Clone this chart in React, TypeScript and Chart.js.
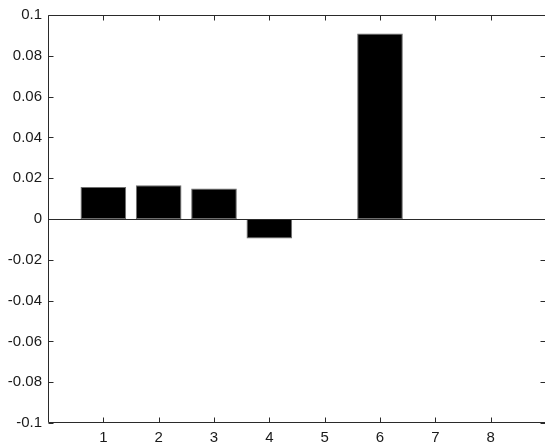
import React, { useEffect, useRef } from "react";
import { Chart, registerables } from "chart.js";

Chart.register(...registerables);

const categories = [1, 2, 3, 4, 5, 6, 7, 8];
const values = [0.0157, 0.0166, 0.015, -0.0095, 0, 0.0909, 0, 0];
const xLimits = [0, 9];
const yLimits = [-0.1, 0.1];
const yStep = 0.02;

const FONT = "'Liberation Sans Narrow', 'Liberation Sans', Arial, sans-serif";

const fmtY = (v: number) => {
  const r = Number(v.toFixed(2));
  return r === 0 ? "0" : String(r);
};

const boxPlugin = {
  id: "matlabBox",
  afterDatasetsDraw(chart: any) {
    const { ctx, chartArea } = chart;
    const xs = chart.scales.x;
    const ys = chart.scales.y;
    const l = Math.round(chartArea.left) + 0.5;
    const r = Math.round(chartArea.right) - 0.5;
    const t = Math.round(chartArea.top) + 0.5;
    const b = Math.round(chartArea.bottom) - 0.5;
    ctx.save();
    ctx.strokeStyle = "#2a2a2a";
    ctx.lineWidth = 1;
    // zero baseline
    const z = Math.round(ys.getPixelForValue(0)) + 0.5;
    ctx.beginPath();
    ctx.moveTo(l, z);
    ctx.lineTo(r, z);
    ctx.stroke();
    // box
    ctx.beginPath();
    ctx.rect(l, t, r - l, b - t);
    ctx.stroke();
    const tl = 5;
    // x ticks
    ctx.beginPath();
    categories.forEach((c) => {
      const px = Math.round(xs.getPixelForValue(c)) + 0.5;
      ctx.moveTo(px, b);
      ctx.lineTo(px, b - tl);
      ctx.moveTo(px, t);
      ctx.lineTo(px, t + tl);
    });
    // y ticks
    for (let v = yLimits[0]; v <= yLimits[1] + 1e-9; v += yStep) {
      const py = Math.round(ys.getPixelForValue(v)) + 0.5;
      ctx.moveTo(l, py);
      ctx.lineTo(l + tl, py);
      ctx.moveTo(r, py);
      ctx.lineTo(r - tl, py);
    }
    ctx.stroke();
    ctx.restore();
  },
};

export default function App() {
  const ref = useRef<HTMLCanvasElement | null>(null);
  useEffect(() => {
    if (!ref.current) return;
    const chart = new Chart(ref.current, {
      type: "bar",
      data: {
        datasets: [
          {
            data: categories.map((c, i) => ({ x: c, y: values[i] })),
            backgroundColor: "#000000",
            borderColor: "#6e6e6e",
            borderWidth: 1,
            borderSkipped: false,
            categoryPercentage: 1,
            barPercentage: 0.825,
          },
        ],
      },
      options: {
        animation: false,
        responsive: false,
        maintainAspectRatio: false,
        devicePixelRatio: 1,
        layout: { padding: { left: 0, right: 5, top: 12, bottom: 0 } },
        plugins: { legend: { display: false }, tooltip: { enabled: false } },
        scales: {
          x: {
            type: "linear",
            min: xLimits[0],
            max: xLimits[1],
            offset: false,
            grid: { display: false, drawTicks: false },
            border: { display: false },
            ticks: {
              stepSize: 1,
              autoSkip: false,
              maxRotation: 0,
              padding: 6,
              color: "#1a1a1a",
              font: { family: FONT, size: 15 },
              callback: (v: any) =>
                v > xLimits[0] && v < xLimits[1] ? String(v) : "",
            },
            afterFit: (s: any) => {
              s.height = 24;
            },
          },
          y: {
            min: yLimits[0],
            max: yLimits[1],
            grid: { display: false, drawTicks: false },
            border: { display: false },
            ticks: {
              stepSize: yStep,
              padding: 6,
              color: "#1a1a1a",
              font: { family: FONT, size: 15 },
              callback: (v: any) => fmtY(Number(v)),
            },
            afterFit: (s: any) => {
              s.width = 48;
            },
          },
        },
      },
      plugins: [boxPlugin],
    });
    return () => chart.destroy();
  }, []);
  return (
    <div
      style={{
        position: "fixed",
        left: 0,
        top: 0,
        width: 552,
        height: 447,
        background: "#fff",
      }}
    >
      <canvas ref={ref} width={552} height={447} style={{ display: "block" }} />
    </div>
  );
}
